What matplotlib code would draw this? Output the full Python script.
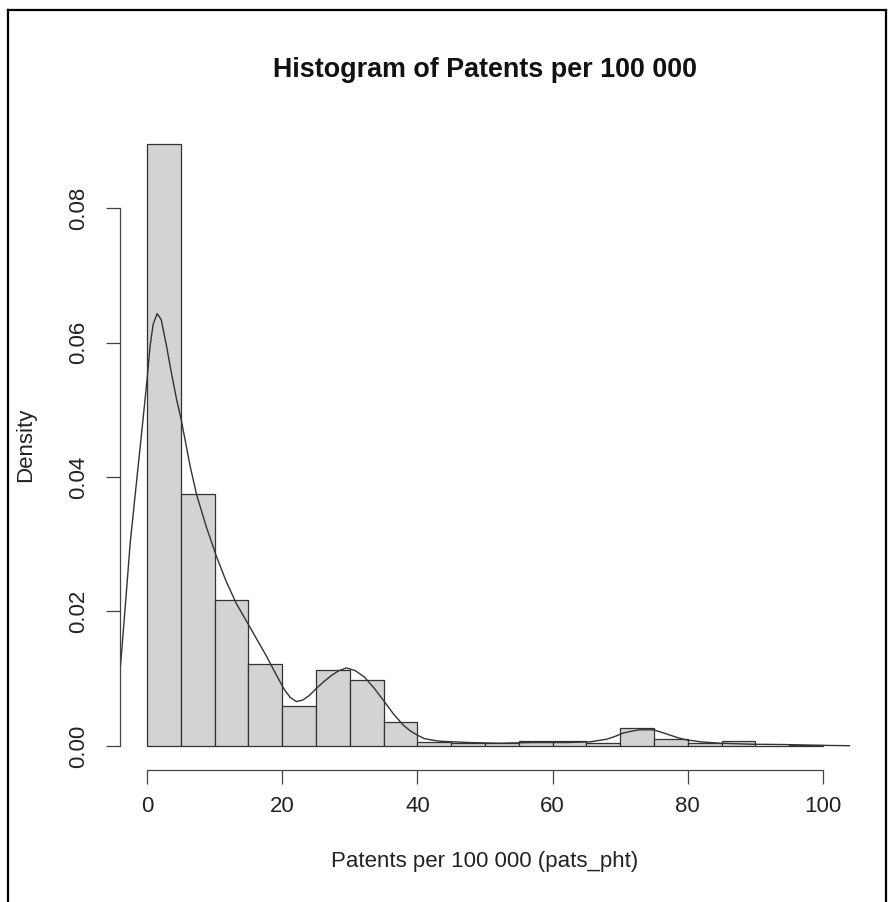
import matplotlib
matplotlib.use("Agg")
import matplotlib.pyplot as plt
from matplotlib.lines import Line2D

plt.rcParams['font.family'] = ['Liberation Sans', 'DejaVu Sans']

# histogram bins (width 5) and density heights
bin_edges = list(range(0, 105, 5))
bar_density = [0.0895, 0.0375, 0.0217, 0.0122, 0.0060, 0.0113, 0.0098, 0.0036,
               0.0006, 0.00045, 0.00045, 0.0007, 0.0007, 0.0005, 0.0027, 0.0010,
               0.0005, 0.0008, 0.0, 0.0002]

# kernel density curve
kde_x = [-4, -3.2, -2.5, -1.5, -0.55, 0.0, 0.44, 0.9, 1.5, 2.1, 2.9, 3.6, 4.4,
         5.0, 5.5, 6.4, 7.35, 8.8, 10.3, 11.7, 13.2, 15.2, 17.7, 19.0, 20.3,
         21.2, 22.1, 23.0, 24.0, 25.1, 26.2, 27.3, 28.4, 29.5, 30.8, 32.1, 33.6,
         35.1, 36.5, 37.9, 39.0, 40.0, 41.0, 42.0, 43.3, 47.8, 52, 57, 62, 65.5,
         68, 69.2, 70.4, 71.7, 72.9, 74.9, 76.2, 77.4, 78.6, 79.8, 82, 84.8,
         89.7, 94.6, 99, 104]
kde_y = [0.0110, 0.0210, 0.0301, 0.0398, 0.0490, 0.0545, 0.0594, 0.0627, 0.0643,
         0.0634, 0.0594, 0.0555, 0.0514, 0.0488, 0.0462, 0.0415, 0.0373, 0.0325,
         0.0281, 0.0245, 0.0212, 0.0177, 0.0133, 0.0108, 0.0084, 0.0072, 0.0066,
         0.0068, 0.0075, 0.0086, 0.0096, 0.0105, 0.0112, 0.0116, 0.0112, 0.0103,
         0.0086, 0.0066, 0.0047, 0.0031, 0.0022, 0.0016, 0.0011, 0.0009, 0.0007,
         0.0005, 0.0004, 0.0005, 0.0005, 0.0006, 0.0010, 0.0014, 0.0019, 0.0022,
         0.0024, 0.0024, 0.0020, 0.0016, 0.0012, 0.0009, 0.0006, 0.0004, 0.00025,
         0.0002, 0.0001, 0.00003]

x_ticks = [0, 20, 40, 60, 80, 100]
y_ticks = [0.00, 0.02, 0.04, 0.06, 0.08]

W, H = 894, 902
fig = plt.figure(figsize=(W / 100, H / 100), dpi=100)
ax = fig.add_axes([120 / W, 1 - 770 / H, 730 / W, 650 / H])

ax.bar(bin_edges[:-1], bar_density, width=5, align='edge',
       color='#d3d3d3', edgecolor='#333333', linewidth=0.9)
ax.plot(kde_x, kde_y, color='#333333', linewidth=1.0)

ax.set_xlim(-4, 104)
ax.set_ylim(-0.00358, 0.0931)

for side in ['top', 'right']:
    ax.spines[side].set_visible(False)
ax.spines['left'].set_bounds(0, 0.08)
ax.spines['bottom'].set_bounds(0, 100)
for side in ['left', 'bottom']:
    ax.spines[side].set_color('#444444')
    ax.spines[side].set_linewidth(0.9)

ax.set_xticks(x_ticks)
ax.set_xticklabels([str(v) for v in x_ticks])
ax.set_yticks(y_ticks)
ax.set_yticklabels(['%.2f' % v for v in y_ticks], rotation=90, va='center')
ax.tick_params(axis='both', length=10, width=0.9, color='#444444',
               labelsize=16, labelcolor='#222222')
ax.tick_params(axis='x', pad=9)
ax.tick_params(axis='y', pad=12)

fig.text(485 / W, 1 - 70 / H, 'Histogram of Patents per 100 000',
         ha='center', va='center', fontsize=19.4, fontweight='bold', color='#111111')
fig.text(485 / W, 1 - 862 / H, 'Patents per 100 000 (pats_pht)',
         ha='center', va='center', fontsize=16, color='#222222')
fig.text(26 / W, 1 - 445 / H, 'Density', rotation=90,
         ha='center', va='center', fontsize=16, color='#222222')

# frame around the whole picture (open at the bottom, as in the screenshot)
fx = lambda p: p / W
fy = lambda p: 1 - p / H
fig.add_artist(Line2D([fx(8), fx(8)], [fy(910), fy(10)], color='black', lw=1.6))
fig.add_artist(Line2D([fx(8), fx(886)], [fy(10), fy(10)], color='black', lw=1.6))
fig.add_artist(Line2D([fx(886), fx(886)], [fy(10), fy(910)], color='black', lw=1.6))

fig.savefig('out.png', dpi=100, facecolor='white')
